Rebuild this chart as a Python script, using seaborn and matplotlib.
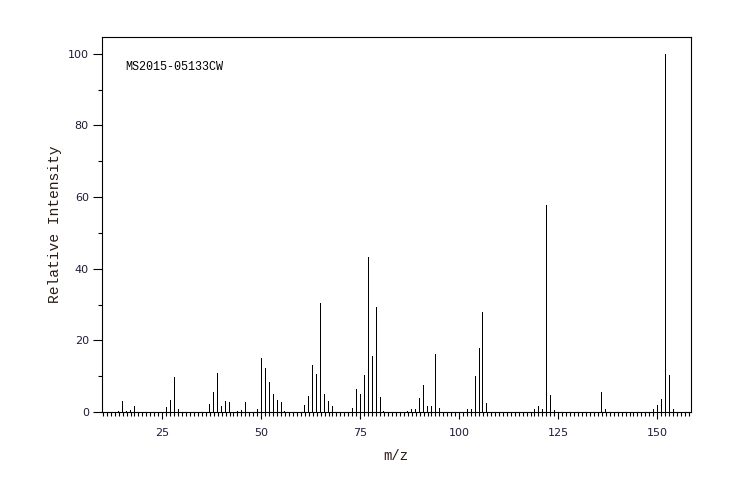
import matplotlib
matplotlib.use("Agg")
import matplotlib.pyplot as plt
from matplotlib.ticker import MultipleLocator
import seaborn as sns
import pandas as pd

mz = [14, 15, 16, 17, 18, 26, 27, 28, 29, 30, 37, 38, 39, 40, 41, 42, 44, 45, 46,
      49, 50, 51, 52, 53, 54, 55, 56, 61, 62, 63, 64, 65, 66, 67, 68, 73, 74, 75,
      76, 77, 78, 79, 80, 81, 87, 88, 89, 90, 91, 92, 93, 94, 95, 102, 103, 104,
      105, 106, 107, 119, 120, 121, 122, 123, 124, 136, 137, 149, 150, 151, 152,
      153, 154]
intensity = [0.3, 3.0, 0.4, 0.6, 1.6, 1.3, 3.3, 9.7, 0.8, 7.7, 2.1, 5.5, 10.8, 1.6,
             3.0, 2.7, 0.3, 0.6, 2.7, 0.7, 15.0, 12.2, 8.3, 5.0, 3.4, 2.9, 0.4, 2.0,
             4.6, 13.2, 10.7, 30.5, 5.1, 3.2, 1.8, 1.2, 6.5, 5.1, 10.4, 43.4, 15.5,
             29.4, 4.3, 0.4, 0.4, 0.7, 0.7, 4.0, 7.4, 1.8, 1.8, 16.3, 1.2, 0.7, 0.9,
             10.1, 18.0, 28.0, 2.6, 0.8, 1.8, 0.7, 57.8, 4.8, 0.5, 5.5, 0.7, 0.7, 2.0,
             3.7, 100.0, 10.4, 0.9]
x_major_ticks = [25, 50, 75, 100, 125, 150]
y_major_ticks = [0, 20, 40, 60, 80, 100]
sample_id = "MS2015-05133CW"

df = pd.DataFrame({"mz": mz, "intensity": intensity})

sns.set_style("white")
plt.rcParams["font.family"] = ["DejaVu Sans"]

fig = plt.figure(figsize=(7.47, 5.0), dpi=100)
ax = fig.add_axes([102 / 747, 88 / 500, 588.5 / 747, 375 / 500])

sns.barplot(data=df, x="mz", y="intensity", native_scale=True, width=0.25,
            color="black", errorbar=None, linewidth=0, saturation=1,
            antialiased=False, ax=ax)

ax.set_xlim(9.8, 158.4)
ax.set_ylim(0, 104.7)

ax.set_xticks(x_major_ticks)
ax.set_xticklabels([str(t) for t in x_major_ticks])
ax.xaxis.set_minor_locator(MultipleLocator(1))
ax.set_yticks(y_major_ticks)
ax.set_yticklabels([str(t) for t in y_major_ticks])
ax.yaxis.set_minor_locator(MultipleLocator(10))

label_color = "#1c1c3a"
ax.tick_params(axis="x", which="major", direction="out", length=5.2, width=0.8,
               color="black", labelsize=8, labelcolor=label_color, pad=6.5, bottom=True)
ax.tick_params(axis="x", which="minor", direction="out", length=2.6, width=0.8,
               color="black", bottom=True)
ax.tick_params(axis="y", which="major", direction="out", length=6.5, width=0.8,
               color="black", labelsize=8, labelcolor=label_color, pad=3, left=True)
ax.tick_params(axis="y", which="minor", direction="out", length=3.2, width=0.8,
               color="black", left=True)

for sp in ax.spines.values():
    sp.set_visible(True)
    sp.set_color("black")
    sp.set_linewidth(0.8)

ax.set_xlabel("m/z", family="Liberation Mono", fontsize=10, color="#2a1a14", labelpad=8)
ax.set_ylabel("Relative Intensity", family="Liberation Mono", fontsize=10.5,
              color="#2a1a14", labelpad=4)

ax.text(0.039, 0.92, sample_id, transform=ax.transAxes, family="Liberation Mono",
        fontsize=8.5, color="black", ha="left", va="center")

fig.savefig("out.png", dpi=100)
